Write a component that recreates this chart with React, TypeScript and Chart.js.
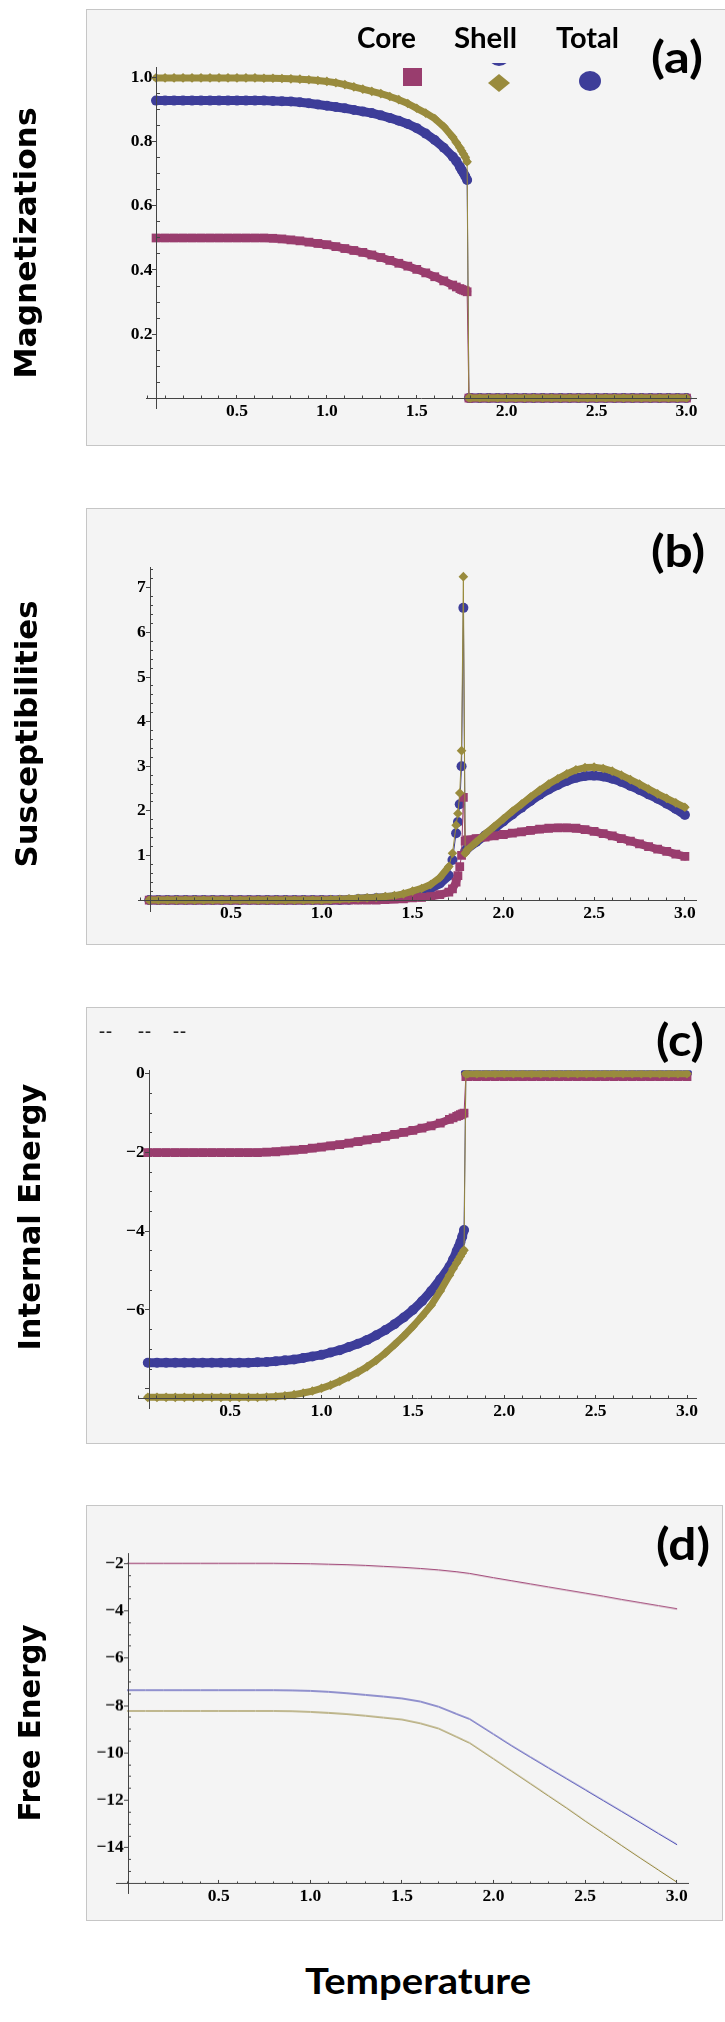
import React, { useEffect, useRef } from "react";
import { Chart, registerables } from "chart.js";

Chart.register(...registerables);

// ---------------- data ----------------
const temps = [
  0.05, 0.1, 0.15, 0.2, 0.25, 0.3, 0.35, 0.4, 0.45, 0.5, 0.55, 0.6, 0.65, 0.7, 0.75, 0.8, 0.85, 0.9, 0.95, 1.0,
  1.05, 1.1, 1.15, 1.2, 1.25, 1.3, 1.35, 1.4, 1.45, 1.5, 1.55, 1.6, 1.65, 1.7, 1.72, 1.74, 1.75, 1.76, 1.77, 1.78,
  1.79, 1.8, 1.85, 1.9, 1.95, 2.0, 2.05, 2.1, 2.15, 2.2, 2.25, 2.3, 2.35, 2.4, 2.45, 2.5, 2.55, 2.6, 2.65, 2.7,
  2.75, 2.8, 2.85, 2.9, 2.95, 3.0,
];

// (a) Magnetizations
const magCore = [
  0.5, 0.5, 0.5, 0.5, 0.5, 0.5, 0.5, 0.5, 0.5, 0.5, 0.5, 0.5, 0.5, 0.499, 0.497, 0.494, 0.491, 0.487, 0.483, 0.479,
  0.473, 0.467, 0.461, 0.455, 0.447, 0.439, 0.43, 0.421, 0.412, 0.402, 0.391, 0.379, 0.366, 0.353, 0.347, 0.342, 0.339, 0.337, 0.335, 0.332,
  0, 0, 0, 0, 0, 0, 0, 0, 0, 0, 0, 0, 0, 0, 0, 0, 0, 0, 0, 0,
  0, 0, 0, 0, 0, 0,
];
const magShell = [
  1.0, 1.0, 1.0, 1.0, 1.0, 1.0, 1.0, 1.0, 1.0, 1.0, 1.0, 1.0, 0.999, 0.999, 0.998, 0.997, 0.996, 0.994, 0.992, 0.989,
  0.985, 0.979, 0.972, 0.965, 0.958, 0.951, 0.942, 0.932, 0.92, 0.905, 0.89, 0.873, 0.848, 0.815, 0.798, 0.782, 0.772, 0.762, 0.752, 0.738,
  0, 0, 0, 0, 0, 0, 0, 0, 0, 0, 0, 0, 0, 0, 0, 0, 0, 0, 0, 0,
  0, 0, 0, 0, 0, 0,
];
const magTotal = [
  0.929, 0.929, 0.929, 0.929, 0.929, 0.929, 0.929, 0.929, 0.929, 0.929, 0.929, 0.929, 0.929, 0.928, 0.927, 0.926, 0.924, 0.921, 0.917, 0.913,
  0.909, 0.905, 0.9, 0.895, 0.89, 0.883, 0.875, 0.866, 0.856, 0.843, 0.826, 0.806, 0.782, 0.754, 0.74, 0.722, 0.712, 0.703, 0.693, 0.681,
  0, 0, 0, 0, 0, 0, 0, 0, 0, 0, 0, 0, 0, 0, 0, 0, 0, 0, 0, 0,
  0, 0, 0, 0, 0, 0,
];

// (b) Susceptibilities
const susCore = [
  0, 0, 0, 0, 0, 0, 0, 0, 0, 0, 0, 0, 0, 0, 0, 0, 0, 0, 0, 0,
  0, 0, 0, 0, 0, 0, 0.01, 0.02, 0.03, 0.05, 0.06, 0.08, 0.12, 0.18, 0.25, 0.4, 0.55, 0.75, 1.0, 2.3,
  1.32, 1.35, 1.38, 1.41, 1.44, 1.47, 1.5, 1.53, 1.56, 1.59, 1.61, 1.62, 1.62, 1.61, 1.58, 1.54, 1.49, 1.44, 1.38, 1.32,
  1.26, 1.2, 1.14, 1.09, 1.03, 0.98,
];
const susShell = [
  0, 0, 0, 0, 0, 0, 0, 0, 0, 0, 0, 0, 0, 0, 0, 0, 0, 0, 0, 0,
  0.01, 0.02, 0.03, 0.04, 0.05, 0.06, 0.08, 0.1, 0.14, 0.2, 0.26, 0.35, 0.5, 0.75, 1.05, 1.68, 1.94, 2.4, 3.35, 7.25,
  1.05, 1.12, 1.3, 1.48, 1.65, 1.82, 1.99, 2.15, 2.31, 2.46, 2.6, 2.72, 2.83, 2.92, 2.97, 2.98, 2.95, 2.89, 2.8, 2.7,
  2.6, 2.49, 2.38, 2.28, 2.18, 2.08,
];
const susTotal = [
  0, 0, 0, 0, 0, 0, 0, 0, 0, 0, 0, 0, 0, 0, 0, 0, 0, 0, 0, 0,
  0, 0, 0.01, 0.02, 0.03, 0.04, 0.05, 0.07, 0.1, 0.15, 0.19, 0.26, 0.37, 0.55, 0.9, 1.5, 1.75, 2.15, 3.0, 6.55,
  1.1, 1.15, 1.3, 1.45, 1.6, 1.76, 1.92, 2.07, 2.22, 2.36, 2.48, 2.58, 2.67, 2.74, 2.78, 2.79, 2.77, 2.72, 2.65, 2.56,
  2.47, 2.37, 2.27, 2.16, 2.04, 1.91,
];

// (c) Internal Energy
const engCore = [
  -2.0, -2.0, -2.0, -2.0, -2.0, -2.0, -2.0, -2.0, -2.0, -2.0, -2.0, -2.0, -2.0, -1.99, -1.98, -1.96, -1.94, -1.92, -1.89, -1.86,
  -1.83, -1.8, -1.76, -1.72, -1.68, -1.64, -1.59, -1.54, -1.49, -1.44, -1.38, -1.32, -1.25, -1.16, -1.12, -1.08, -1.06, -1.04, -1.02, -1.0,
  -0.07, -0.07, -0.07, -0.07, -0.07, -0.07, -0.07, -0.07, -0.07, -0.07, -0.07, -0.07, -0.07, -0.07, -0.07, -0.07, -0.07, -0.07, -0.07, -0.07,
  -0.07, -0.07, -0.07, -0.07, -0.07, -0.07,
];
const engShell = [
  -8.22, -8.22, -8.22, -8.22, -8.22, -8.22, -8.22, -8.22, -8.22, -8.22, -8.22, -8.22, -8.22, -8.21, -8.2, -8.18, -8.15, -8.11, -8.06, -7.99,
  -7.91, -7.81, -7.7, -7.58, -7.44, -7.28, -7.09, -6.88, -6.66, -6.42, -6.16, -5.88, -5.52, -5.12, -4.95, -4.8, -4.72, -4.64, -4.56, -4.48,
  0, 0, 0, 0, 0, 0, 0, 0, 0, 0, 0, 0, 0, 0, 0, 0, 0, 0, 0, 0,
  0, 0, 0, 0, 0, 0,
];
const engTotal = [
  -7.34, -7.34, -7.34, -7.34, -7.34, -7.34, -7.34, -7.34, -7.34, -7.34, -7.34, -7.34, -7.33, -7.32, -7.3, -7.28, -7.26, -7.22, -7.18, -7.14,
  -7.08, -7.02, -6.94, -6.86, -6.76, -6.64, -6.51, -6.36, -6.19, -6.0, -5.78, -5.52, -5.22, -4.9, -4.72, -4.5, -4.4, -4.28, -4.14, -3.97,
  0.02, 0.02, 0.02, 0.02, 0.02, 0.02, 0.02, 0.02, 0.02, 0.02, 0.02, 0.02, 0.02, 0.02, 0.02, 0.02, 0.02, 0.02, 0.02, 0.02,
  0.02, 0.02, 0.02, 0.02, 0.02, 0.02,
];

// (d) Free Energy
const freeTemps = [
  0.0, 0.1, 0.2, 0.3, 0.4, 0.5, 0.6, 0.7, 0.8, 0.9, 1.0, 1.1, 1.2, 1.3, 1.4, 1.5, 1.6, 1.7, 1.8, 1.87,
  2.0, 2.1, 2.2, 2.3, 2.4, 2.5, 2.6, 2.7, 2.8, 2.9, 3.0,
];
const freeCore = [
  -2.0, -2.0, -2.0, -2.0, -2.0, -2.0, -2.0, -2.0, -2.0, -2.01, -2.02, -2.04, -2.06, -2.09, -2.13, -2.17, -2.22, -2.28, -2.36, -2.43,
  -2.61, -2.74, -2.87, -3.0, -3.13, -3.26, -3.39, -3.53, -3.66, -3.79, -3.92,
];
const freeShell = [
  -8.23, -8.23, -8.23, -8.23, -8.23, -8.23, -8.23, -8.23, -8.23, -8.24, -8.27, -8.31, -8.36, -8.43, -8.51, -8.59, -8.75, -8.97, -9.33, -9.58,
  -10.25, -10.77, -11.29, -11.81, -12.33, -12.87, -13.39, -13.91, -14.43, -14.94, -15.45,
];
const freeTotal = [
  -7.35, -7.35, -7.35, -7.35, -7.35, -7.35, -7.35, -7.35, -7.35, -7.36, -7.38, -7.42, -7.48, -7.55, -7.62, -7.7, -7.83, -8.05, -8.36, -8.57,
  -9.21, -9.7, -10.17, -10.63, -11.09, -11.55, -12.01, -12.47, -12.93, -13.4, -13.86,
];

// tick values and labels
const xMajorTicks = [0.5, 1.0, 1.5, 2.0, 2.5, 3.0];
const xMajorLabels = ["0.5", "1.0", "1.5", "2.0", "2.5", "3.0"];
const magTicks = [0.2, 0.4, 0.6, 0.8, 1.0];
const magLabels = ["0.2", "0.4", "0.6", "0.8", "1.0"];
const susTicks = [1, 2, 3, 4, 5, 6, 7];
const susLabels = ["1", "2", "3", "4", "5", "6", "7"];
const engTicks = [-8, -6, -4, -2, 0];
const engLabels = ["", "\u22126", "\u22124", "\u22122", "0"];
const freeTicks = [-14, -12, -10, -8, -6, -4, -2];
const freeLabels = ["\u221214", "\u221212", "\u221210", "\u22128", "\u22126", "\u22124", "\u22122"];

// ---------------- styling ----------------
const CORE = "#993d6e";
const SHELL = "#998b3d";
const TOTAL = "#3d3d99";
const AXIS = "#444";
const SERIF = '"Liberation Serif", "Times New Roman", serif';
const TICKFONT = { family: SERIF, weight: "bold" as const, size: 17.5, lineHeight: 1.2 };

Chart.defaults.font.family = SERIF;
Chart.defaults.font.size = 17.5;
Chart.defaults.font.weight = "bold" as any;
Chart.defaults.color = "#000";

function steps(from: number, to: number, step: number, skip: number[]) {
  const out: number[] = [];
  const n = Math.round((to - from) / step);
  for (let i = 0; i <= n; i++) {
    const v = Math.round((from + i * step) * 1000) / 1000;
    if (!skip.some((s) => Math.abs(s - v) < 1e-6)) out.push(v);
  }
  return out;
}
const xMinorTicks = steps(0, 3.0, 0.1, xMajorTicks);

type Series = { label: string; data: number[]; color: string; style: string; radius: number; band: number };
type PanelSpec = {
  top: number;
  height: number;
  area: { l: number; r: number; t: number; b: number };
  x: [number, number];
  y: [number, number];
  yAxisAt: number;
  xAxisAt: number;
  yMajor: number[];
  yLabels: string[];
  yMinor: number[];
  xs: number[];
  series: Series[];
  markers: boolean;
};

const mk = (core: number[], shell: number[], total: number[], lines: boolean): Series[] => [
  { label: "Shell", data: shell, color: lines ? "#8c7c2c" : SHELL, style: "rectRot", radius: 4.8, band: 7 },
  { label: "Core", data: core, color: lines ? "#922a62" : CORE, style: "rect", radius: 6.2, band: 8 },
  { label: "Total", data: total, color: lines ? "#2f2fa8" : TOTAL, style: "circle", radius: 5, band: 9 },
];

const panels: PanelSpec[] = [
  {
    top: 9, height: 437, area: { l: 146, r: 696, t: 67, b: 408 },
    x: [-0.006, 3.053], y: [-0.031, 1.034], yAxisAt: 0.055, xAxisAt: 0,
    yMajor: magTicks, yLabels: magLabels, yMinor: steps(0.05, 1.0, 0.05, magTicks),
    xs: temps, series: mk(magCore, magShell, magTotal, false), markers: true,
  },
  {
    top: 507.5, height: 437, area: { l: 138.7, r: 696.7, t: 567, b: 911 },
    x: [-0.008, 3.065], y: [-0.256, 7.455], yAxisAt: 0.055, xAxisAt: 0,
    yMajor: susTicks, yLabels: susLabels, yMinor: steps(0.2, 7.4, 0.2, susTicks),
    xs: temps, series: mk(susCore, susShell, susTotal, false), markers: true,
  },
  {
    top: 1006.5, height: 437.5, area: { l: 138.7, r: 696.7, t: 1070, b: 1408 },
    x: [0, 3.053], y: [-8.49, 0.084], yAxisAt: 0.057, xAxisAt: -8.24,
    yMajor: engTicks, yLabels: engLabels, yMinor: steps(-8, 0, 0.5, engTicks),
    xs: temps, series: mk(engCore, engShell, engTotal, false), markers: true,
  },
  {
    top: 1505, height: 415.5, area: { l: 116.7, r: 688.3, t: 1553.3, b: 1893 },
    x: [-0.057, 3.063], y: [-15.93, -1.58], yAxisAt: 0.006, xAxisAt: -15.52,
    yMajor: freeTicks, yLabels: freeLabels, yMinor: steps(-15.5, -2, 0.5, freeTicks),
    xs: freeTemps, series: mk(freeCore, freeShell, freeTotal, true), markers: false,
  },
];

function PanelChart({ spec }: { spec: PanelSpec }) {
  const ref = useRef<HTMLCanvasElement>(null);
  useEffect(() => {
    const canvas = ref.current;
    if (!canvas) return;
    const { area } = spec;
    const datasets = spec.series.map((s) => ({
      label: s.label,
      data: spec.xs.map((t, i) => ({ x: t, y: s.data[i] })),
      xAxisID: "x",
      yAxisID: "y",
      borderColor: s.color,
      backgroundColor: s.color,
      pointBackgroundColor: s.color,
      pointBorderColor: s.color,
      pointBorderWidth: 0,
      pointStyle: s.style,
      pointRadius: spec.markers ? s.radius : 0,
      pointHoverRadius: spec.markers ? s.radius : 0,
      borderWidth: 1,
      tension: 0,
      fill: false,
      borderJoinStyle: "round",
      borderCapStyle: "round",
      segment: spec.markers
        ? {
            borderWidth: (c: any) => {
              const dx = Math.abs(c.p1.x - c.p0.x);
              const dy = Math.abs(c.p1.y - c.p0.y);
              return dy > 2.5 * dx + 3 ? 1 : s.band;
            },
          }
        : undefined,
    }));
    const axisBase = (min: number, max: number, pos: any) => ({
      type: "linear" as const,
      min,
      max,
      position: pos,
      z: 2,
    });
    const chart = new Chart(canvas, {
      type: "line",
      data: { datasets: datasets as any },
      options: {
        animation: false,
        responsive: false,
        events: [],
        layout: {
          padding: {
            left: area.l,
            right: 725 - area.r,
            top: area.t - spec.top,
            bottom: spec.top + spec.height - area.b,
          },
        },
        plugins: { legend: { display: false }, tooltip: { enabled: false } },
        scales: {
          x: {
            ...axisBase(spec.x[0], spec.x[1], { y: spec.xAxisAt }),
            border: { display: true, color: AXIS, width: 1, z: 2 },
            grid: { display: true, drawOnChartArea: false, drawTicks: true, tickLength: -4, tickColor: AXIS, tickWidth: 1, z: 2 },
            ticks: {
              autoSkip: false, maxRotation: 0, minRotation: 0, padding: 6.5, color: "#000", font: TICKFONT,
              callback: (_v: any, i: number) => xMajorLabels[i] ?? "",
            },
            afterBuildTicks: (s: any) => { s.ticks = xMajorTicks.map((v) => ({ value: v })); },
          },
          xm: {
            ...axisBase(spec.x[0], spec.x[1], { y: spec.xAxisAt }),
            axis: "x",
            border: { display: false },
            grid: { display: true, drawOnChartArea: false, drawTicks: true, tickLength: -2.5, tickColor: AXIS, tickWidth: 1, z: 2 },
            ticks: { display: false, autoSkip: false },
            afterBuildTicks: (s: any) => { s.ticks = xMinorTicks.map((v) => ({ value: v })); },
          },
          y: {
            ...axisBase(spec.y[0], spec.y[1], { x: spec.yAxisAt }),
            border: { display: true, color: AXIS, width: 1, z: 2 },
            grid: { display: true, drawOnChartArea: false, drawTicks: true, tickLength: 4, tickColor: AXIS, tickWidth: 1, z: 2 },
            ticks: {
              autoSkip: false, padding: 0, color: "#000", font: TICKFONT,
              callback: (_v: any, i: number) => (spec.yLabels[i] ? spec.yLabels[i] + " " : ""),
            },
            afterBuildTicks: (s: any) => { s.ticks = spec.yMajor.map((v) => ({ value: v })); },
          },
          ym: {
            ...axisBase(spec.y[0], spec.y[1], { x: spec.yAxisAt }),
            axis: "y",
            border: { display: false },
            grid: { display: true, drawOnChartArea: false, drawTicks: true, tickLength: -3, tickColor: AXIS, tickWidth: 1, z: 2 },
            ticks: { display: false, autoSkip: false },
            afterBuildTicks: (s: any) => { s.ticks = spec.yMinor.map((v) => ({ value: v })); },
          },
        } as any,
      },
    });
    return () => chart.destroy();
  }, [spec]);
  return (
    <canvas
      ref={ref}
      width={725}
      height={spec.height}
      style={{ position: "absolute", left: 0, top: spec.top, width: 725, height: spec.height }}
    />
  );
}

// ---------------- text helpers ----------------
let measureCtx: CanvasRenderingContext2D | null = null;
function textWidth(text: string, font: string) {
  if (!measureCtx) measureCtx = document.createElement("canvas").getContext("2d");
  if (!measureCtx) return 1;
  measureCtx.font = font;
  return measureCtx.measureText(text).width || 1;
}

const boxes = [
  { left: 86, top: 9, width: 700, height: 437 },
  { left: 86, top: 507.5, width: 700, height: 437 },
  { left: 86, top: 1006.5, width: 700, height: 437.5 },
  { left: 86, top: 1505, width: 636.5, height: 415.5 },
];

const DEJAVU = '"DejaVu Sans", Verdana, sans-serif';
const LATO = 'Lato, "Open Sans", sans-serif';

const yTitles = [
  { text: "Magnetizations", cx: 25, cy: 243, size: 31, len: 271 },
  { text: "Susceptibilities", cx: 26, cy: 733.5, size: 31, len: 267 },
  { text: "Internal Energy", cx: 28.5, cy: 1216.5, size: 31, len: 267 },
  { text: "Free Energy", cx: 29.5, cy: 1723, size: 30, len: 197 },
];

const panelLabels = [
  { text: "(a)", left: 651, top: 33.5, len: 52 },
  { text: "(b)", left: 651, top: 527.5, len: 54 },
  { text: "(c)", left: 655.5, top: 1017, len: 48 },
  { text: "(d)", left: 655.5, top: 1520.5, len: 54 },
];

const legendTexts = [
  { text: "Core", left: 357, top: 22, len: 59 },
  { text: "Shell", left: 454, top: 22, len: 63 },
  { text: "Total", left: 556, top: 22, len: 63 },
];

function ScaledText(props: {
  text: string; left: number; top: number; len: number; size: number; family: string;
}) {
  const font = `700 ${props.size}px ${props.family}`;
  const k = props.len / textWidth(props.text, font);
  return (
    <div
      style={{
        position: "absolute", left: props.left, top: props.top, lineHeight: 1, whiteSpace: "nowrap",
        fontFamily: props.family, fontWeight: 700, fontSize: props.size, color: "#000",
        transform: `scaleX(${k})`, transformOrigin: "0 0",
      }}
    >
      {props.text}
    </div>
  );
}

export default function App() {
  return (
    <div style={{ position: "absolute", left: 0, top: 0, width: 725, height: 2022, overflow: "hidden", background: "#fff" }}>
      {boxes.map((b, i) => (
        <div
          key={"box" + i}
          style={{
            position: "absolute", left: b.left, top: b.top, width: b.width, height: b.height,
            boxSizing: "border-box", border: "1.5px solid #c6c6c6", background: "#f4f4f4",
          }}
        />
      ))}
      {panels.map((p, i) => (
        <PanelChart key={"chart" + i} spec={p} />
      ))}
      {yTitles.map((t, i) => {
        const k = t.len / textWidth(t.text, `700 ${t.size}px ${DEJAVU}`);
        return (
          <div
            key={"yt" + i}
            style={{
              position: "absolute", left: t.cx - 250, top: t.cy - 18, width: 500, height: 36,
              lineHeight: "36px", textAlign: "center", whiteSpace: "nowrap",
              fontFamily: DEJAVU, fontWeight: 700, fontSize: t.size, color: "#000",
              transform: `rotate(-90deg) scaleX(${k})`, transformOrigin: "50% 50%",
            }}
          >
            {t.text}
          </div>
        );
      })}
      {panelLabels.map((t, i) => (
        <ScaledText key={"pl" + i} text={t.text} left={t.left} top={t.top} len={t.len} size={44} family={LATO} />
      ))}
      {legendTexts.map((t, i) => (
        <ScaledText key={"lg" + i} text={t.text} left={t.left} top={t.top} len={t.len} size={29} family={LATO} />
      ))}
      {/* legend markers */}
      <div style={{ position: "absolute", left: 403, top: 68, width: 19, height: 18, background: CORE }} />
      <div
        style={{
          position: "absolute", left: 488, top: 74, width: 22, height: 18, background: SHELL,
          clipPath: "polygon(50% 0, 100% 50%, 50% 100%, 0 50%)",
        }}
      />
      <div style={{ position: "absolute", left: 488, top: 62.5, width: 22, height: 4, overflow: "hidden" }}>
        <div style={{ position: "absolute", left: 0, top: -18.5, width: 22, height: 22, borderRadius: "50%", background: TOTAL }} />
      </div>
      <div style={{ position: "absolute", left: 578.5, top: 71, width: 22, height: 20, borderRadius: "50%", background: TOTAL }} />
      {/* stray dashes in panel (c) */}
      {[99, 138, 173].map((x, i) => (
        <div
          key={"ds" + i}
          style={{
            position: "absolute", left: x, top: 1022, lineHeight: 1, letterSpacing: 1,
            fontFamily: SERIF, fontWeight: 700, fontSize: 18, color: "#222",
          }}
        >
          --
        </div>
      ))}
      <ScaledText text="Temperature" left={304.5} top={1960.5} len={226} size={37} family={LATO} />
    </div>
  );
}
